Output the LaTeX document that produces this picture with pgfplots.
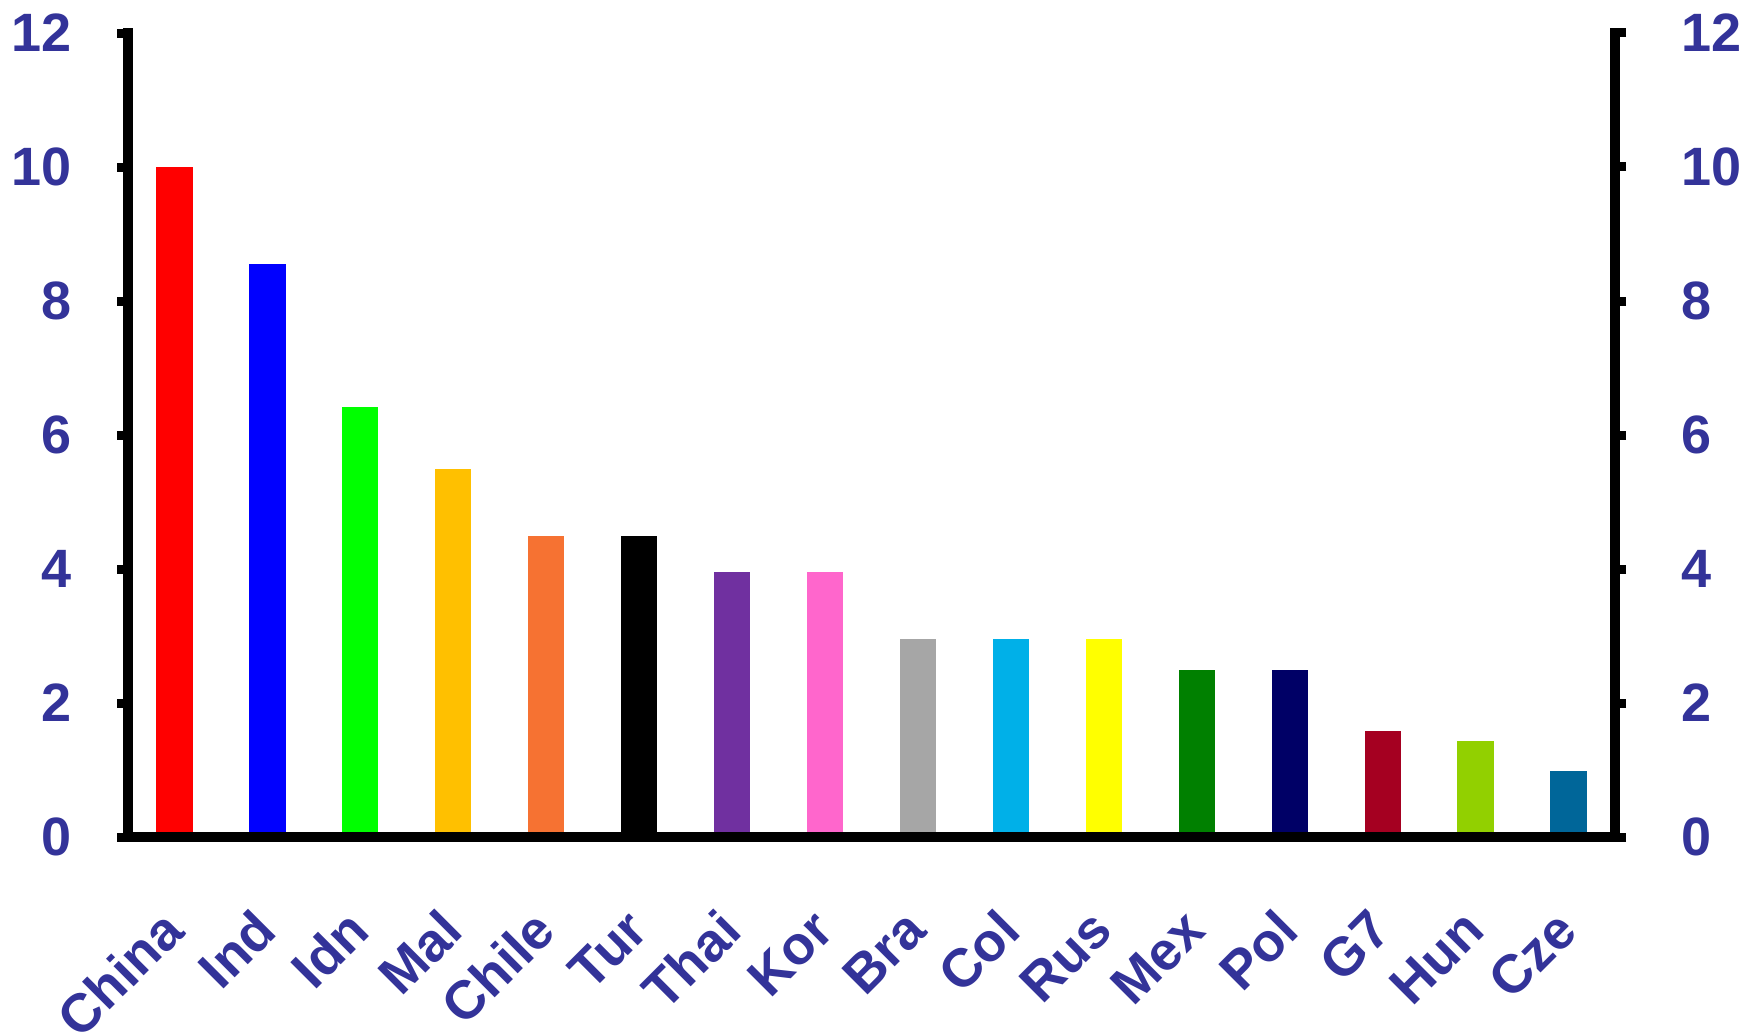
\documentclass[border=0pt]{standalone}
\usepackage{pgfplots}
\pgfplotsset{compat=1.18}
\usepackage{fontspec}
\setmainfont{Liberation Sans}
\definecolor{lab}{HTML}{333399}
\definecolor{cChina}{HTML}{FF0000}
\definecolor{cInd}{HTML}{0000FF}
\definecolor{cIdn}{HTML}{00FF00}
\definecolor{cMal}{HTML}{FFC000}
\definecolor{cChile}{HTML}{F67232}
\definecolor{cTur}{HTML}{000000}
\definecolor{cThai}{HTML}{7030A0}
\definecolor{cKor}{HTML}{FF66CC}
\definecolor{cBra}{HTML}{A6A6A6}
\definecolor{cCol}{HTML}{00B0E8}
\definecolor{cRus}{HTML}{FFFF00}
\definecolor{cMex}{HTML}{008000}
\definecolor{cPol}{HTML}{000066}
\definecolor{cGseven}{HTML}{A50021}
\definecolor{cHun}{HTML}{92D000}
\definecolor{cCze}{HTML}{006699}
\begin{document}
\begin{tikzpicture}
\pgfplotsset{
  common/.style={
    scale only axis,
    width=743.5pt, height=402pt,
    xmin=0, xmax=16, ymin=0, ymax=12,
    ytick={0,2,...,12},
    tick align=outside,
    major tick length=5.5pt,
    axis line style={line width=5pt, line cap=rect},
    every tick/.style={black, line width=4.5pt},
    /pgf/number format/assume math mode=true,
    ticklabel style={font=\fontsize{27}{30}\selectfont\bfseries, text=lab},
  }
}
\begin{axis}[common, name=ax,
  axis x line*=bottom, axis y line*=left,
  axis on top,
  xtick={0.5,1.5,...,15.5},
  xticklabels={China,Ind,Idn,Mal,Chile,Tur,Thai,Kor,Bra,Col,Rus,Mex,Pol,G7,Hun,Cze},
  xtick style={draw=none},
  xticklabel style={rotate=45, anchor=east, yshift=-25pt, xshift=-22.8pt},
  extra x ticks={0,1,...,16},
  extra x tick labels={},
  extra x tick style={tick style={black, line width=4.5pt}, major tick length=8pt},
  yticklabel style={xshift=-19pt},
  ybar, bar width=0.39, bar shift=0pt,
  every axis plot/.append style={draw=none},
]
\addplot[fill=cChina] coordinates {(0.5,10)};
\addplot[fill=cInd] coordinates {(1.5,8.55)};
\addplot[fill=cIdn] coordinates {(2.5,6.42)};
\addplot[fill=cMal] coordinates {(3.5,5.5)};
\addplot[fill=cChile] coordinates {(4.5,4.5)};
\addplot[fill=cTur] coordinates {(5.5,4.5)};
\addplot[fill=cThai] coordinates {(6.5,3.95)};
\addplot[fill=cKor] coordinates {(7.5,3.95)};
\addplot[fill=cBra] coordinates {(8.5,2.95)};
\addplot[fill=cCol] coordinates {(9.5,2.95)};
\addplot[fill=cRus] coordinates {(10.5,2.95)};
\addplot[fill=cMex] coordinates {(11.5,2.5)};
\addplot[fill=cPol] coordinates {(12.5,2.5)};
\addplot[fill=cGseven] coordinates {(13.5,1.58)};
\addplot[fill=cHun] coordinates {(14.5,1.43)};
\addplot[fill=cCze] coordinates {(15.5,0.98)};
\end{axis}
\begin{axis}[common,
  axis y line*=right, axis x line=none,
  yticklabel style={xshift=24pt},
]
\end{axis}
\pgfresetboundingbox
\path ([shift={(-64pt,-99pt)}]ax.south west) rectangle ([shift={(64.5pt,16.5pt)}]ax.north east);
\end{tikzpicture}
\end{document}
